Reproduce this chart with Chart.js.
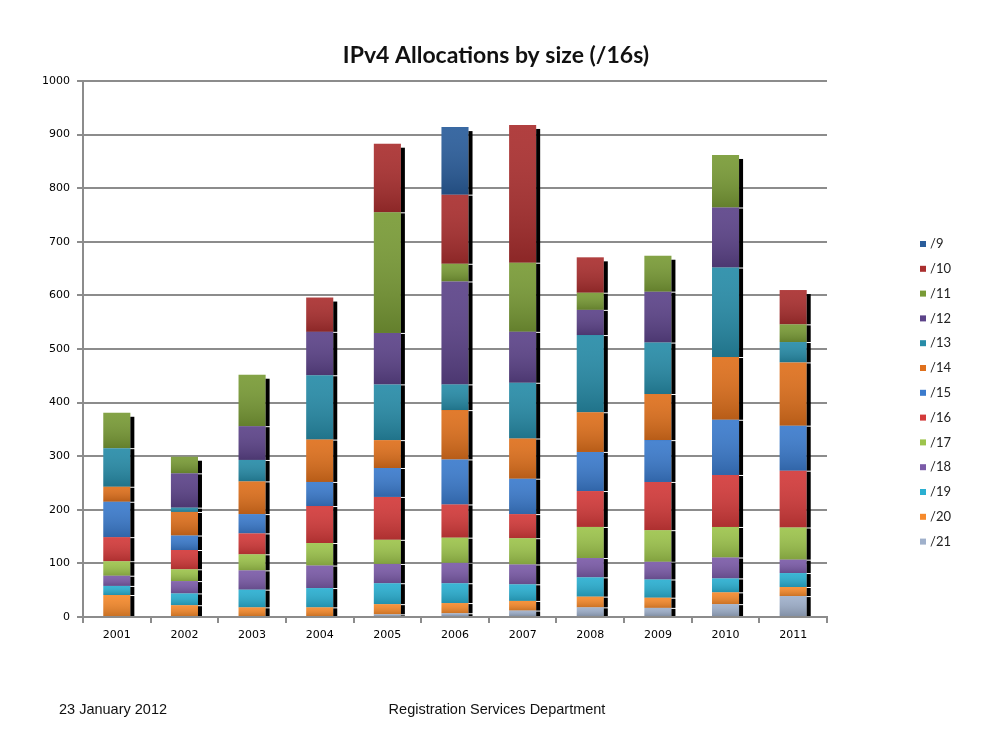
<!DOCTYPE html>
<html>
<head>
<meta charset="utf-8">
<script src="https://cdn.jsdelivr.net/npm/chart.js@4"></script>
<style>
  html, body { margin: 0; padding: 0; background: #fff; }
  #wrap { width: 992px; height: 744px; }
</style>
</head>
<body>
<div id="wrap"><canvas id="chart" width="992" height="744"></canvas></div>
<script>
// years on the x axis
const years = ['2001', '2002', '2003', '2004', '2005', '2006', '2007', '2008', '2009', '2010', '2011'];

// allocations per prefix size, in /16 equivalents
const s21 = [0, 0, 0, 0, 5, 7, 12, 18, 17, 24, 39];
const s20 = [41, 22, 18, 18, 19, 19, 18, 20, 19, 22, 17];
const s19 = [17, 22, 33, 36, 39, 37, 31, 36, 34, 26, 26];
const s18 = [19, 23, 36, 42, 36, 38, 37, 36, 33, 39, 25];
const s17 = [27, 22, 30, 42, 45, 47, 49, 58, 59, 57, 60];
const s16 = [45, 36, 39, 69, 80, 62, 45, 67, 90, 97, 106];
const s15 = [66, 27, 36, 45, 54, 84, 66, 73, 78, 103, 84];
const s14 = [28, 44, 61, 79, 52, 92, 75, 74, 86, 117, 118];
const s13 = [72, 8, 40, 120, 104, 48, 104, 144, 96, 167, 38];
const s12 = [0, 64, 63, 81, 96, 192, 95, 47, 95, 112, 0];
const s11 = [66, 31, 96, 0, 225, 33, 129, 32, 67, 98, 33];
const s10 = [0, 0, 0, 64, 128, 129, 257, 66, 0, 0, 64];
const s9 = [0, 0, 0, 0, 0, 126, 0, 0, 0, 0, 0];

const yTicks = [0, 100, 200, 300, 400, 500, 600, 700, 800, 900, 1000];

// bottom of the stack first
const series = [
  { label: '/21', data: s21, color: '#9fb0cb' },
  { label: '/20', data: s20, color: '#f68a2c' },
  { label: '/19', data: s19, color: '#2aafd1' },
  { label: '/18', data: s18, color: '#7b5ba8' },
  { label: '/17', data: s17, color: '#9dc44c' },
  { label: '/16', data: s16, color: '#d33a3a' },
  { label: '/15', data: s15, color: '#3b7bcd' },
  { label: '/14', data: s14, color: '#df701c' },
  { label: '/13', data: s13, color: '#278ca8' },
  { label: '/12', data: s12, color: '#5c4389' },
  { label: '/11', data: s11, color: '#799b36' },
  { label: '/10', data: s10, color: '#aa2f2f' },
  { label: '/9', data: s9, color: '#2a5d9b' }
];

const gridGrey = '#8c8c8c';

// shading + black side strip on each bar segment
const barSide = {
  id: 'barSide',
  afterDatasetsDraw(chart) {
    const ctx = chart.ctx;
    const sets = chart.data.datasets;
    ctx.save();
    sets.forEach((ds, di) => {
      const meta = chart.getDatasetMeta(di);
      meta.data.forEach((bar, i) => {
        const h = bar.base - bar.y;
        if (h < 0.5) return;
        const left = bar.x - bar.width / 2;
        const right = bar.x + bar.width / 2;
        const g = ctx.createLinearGradient(0, bar.y, 0, bar.base);
        g.addColorStop(0, 'rgba(255,255,255,0.08)');
        g.addColorStop(1, 'rgba(0,0,0,0.18)');
        ctx.fillStyle = g;
        ctx.fillRect(left, bar.y, bar.width, h);
        const isTop = !sets.slice(di + 1).some(d => d.data[i] > 0);
        const gap = isTop ? 4 : 1;
        ctx.fillStyle = '#000';
        ctx.fillRect(right, bar.y + gap, 4, Math.max(0, h - gap));
      });
    });
    ctx.restore();
  }
};

// legend on the right, /9 at the top
const sideLegend = {
  id: 'sideLegend',
  afterDraw(chart) {
    const ctx = chart.ctx;
    ctx.save();
    ctx.font = '13px Lato';
    ctx.textBaseline = 'middle';
    const items = chart.data.datasets.slice().reverse();
    items.forEach((ds, k) => {
      const y = 244 + k * 24.8;
      ctx.fillStyle = ds.backgroundColor;
      ctx.fillRect(920, y - 3, 6, 6);
      ctx.fillStyle = '#222';
      ctx.fillText(ds.label, 930, y);
    });
    ctx.restore();
  }
};

// page title and footer texts
const pageText = {
  id: 'pageText',
  afterDraw(chart) {
    const ctx = chart.ctx;
    ctx.save();
    ctx.textBaseline = 'middle';
    ctx.textAlign = 'center';
    ctx.fillStyle = '#111';
    ctx.font = 'bold 23px Lato';
    ctx.fillText('IPv4 Allocations by size (/16s)', 496, 56);
    ctx.font = '14.5px "Liberation Sans"';
    ctx.textAlign = 'left';
    ctx.fillText('23 January 2012', 59, 710);
    ctx.textAlign = 'center';
    ctx.fillText('Registration Services Department', 497, 710);
    ctx.restore();
  }
};

new Chart(document.getElementById('chart'), {
  type: 'bar',
  data: {
    labels: years,
    datasets: series.map(s => ({
      label: s.label,
      data: s.data,
      backgroundColor: s.color,
      borderWidth: 0,
      barPercentage: 0.4,
      categoryPercentage: 1
    }))
  },
  options: {
    responsive: false,
    animation: false,
    layout: { padding: { left: 0, right: 165, top: 81, bottom: 0 } },
    plugins: {
      legend: { display: false },
      tooltip: { enabled: false },
      title: { display: false }
    },
    scales: {
      x: {
        stacked: true,
        offset: true,
        grid: { offset: true, drawOnChartArea: false, drawTicks: true, tickLength: 6, color: gridGrey, lineWidth: 2 },
        border: { color: gridGrey, width: 2 },
        ticks: { color: '#000', font: { family: 'DejaVu Sans', size: 11 }, padding: 6, maxRotation: 0 },
        afterFit(scale) { scale.height = 127; }
      },
      y: {
        stacked: true,
        min: 0,
        max: 1000,
        afterBuildTicks(scale) { scale.ticks = yTicks.map(v => ({ value: v })); },
        grid: { color: gridGrey, lineWidth: 2, tickLength: 6 },
        border: { color: gridGrey, width: 2 },
        ticks: { color: '#000', font: { family: 'DejaVu Sans', size: 11 }, padding: 7, callback: v => String(v) },
        afterFit(scale) { scale.width = 83; }
      }
    }
  },
  plugins: [barSide, sideLegend, pageText]
});
</script>
</body>
</html>
